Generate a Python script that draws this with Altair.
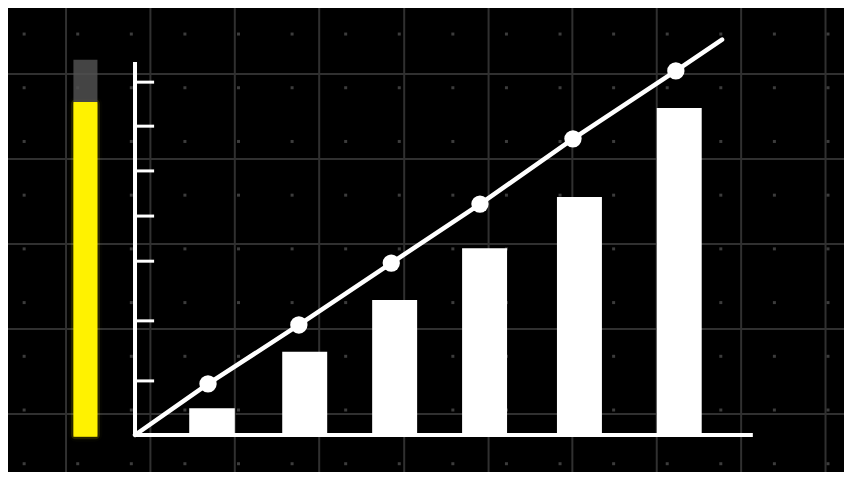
import altair as alt
import pandas as pd

# ---- data (units: x 0..100 along the x axis, y 0..100 along the y axis) ----
bar_x_start = [8.8, 23.9, 38.5, 53.1, 68.5, 84.7]
bar_x_end = [16.2, 31.2, 45.8, 60.4, 75.8, 92.0]
bar_values = [7.2, 22.3, 36.2, 50.1, 63.8, 87.7]

point_x = [11.85, 26.6, 41.6, 56.0, 71.1, 87.8]
point_values = [13.7, 29.5, 46.1, 61.9, 79.4, 97.6]
line_start = (0.0, 0.0)
line_end = (95.3, 106.0)

ytick_values = [14.5, 30.6, 46.6, 58.7, 70.8, 82.8, 94.6]
tick_length = 3.1

grid_x = [-11.2, 2.5, 16.2, 29.9, 43.7, 57.4, 71.0, 84.7, 98.4, 112.1]
grid_y = [5.6, 28.4, 51.2, 74.0, 96.8]

dot_x = [-18.0, -9.3, -0.6, 8.1, 16.8, 25.5, 34.2, 42.9, 51.6, 60.3, 69.0,
         77.7, 86.4, 95.1, 103.8, 112.5]
dot_y = [107.5, 93.1, 78.7, 64.3, 49.9, 35.5, 21.1, 6.7, -7.7]

gauge_x = [-10.0, -6.1]
gauge_level = [-0.5, 89.3]
gauge_cap = [89.3, 100.6]

# ---- scales ----
XD = [-20.62, 115.10]
YD = [-9.92, 114.48]
xs = alt.Scale(domain=XD, nice=False, zero=False)
ys = alt.Scale(domain=YD, nice=False, zero=False)


def X(f, **k):
    return alt.X(f, type="quantitative", scale=xs, axis=None, **k)


def Y(f, **k):
    return alt.Y(f, type="quantitative", scale=ys, axis=None, **k)


# grid
gv = pd.DataFrame({"x": grid_x, "y0": YD[0], "y1": YD[1]})
gh = pd.DataFrame({"y": grid_y, "x0": XD[0], "x1": XD[1]})
grid_v = alt.Chart(gv).mark_rule(color="#303030", strokeWidth=2).encode(
    x=X("x"), y=Y("y0"), y2="y1")
grid_h = alt.Chart(gh).mark_rule(color="#303030", strokeWidth=2).encode(
    y=Y("y"), x=X("x0"), x2="x1")

dots_df = pd.DataFrame([(a, b) for a in dot_x for b in dot_y], columns=["x", "y"])
dots = alt.Chart(dots_df).mark_square(color="#3c3c3c", size=9, opacity=1).encode(
    x=X("x"), y=Y("y"))

# gauge
g_df = pd.DataFrame({"x0": [gauge_x[0]], "x1": [gauge_x[1]],
                     "l0": [gauge_level[0]], "l1": [gauge_level[1]],
                     "c0": [gauge_cap[0]], "c1": [gauge_cap[1]]})
glow2 = alt.Chart(g_df).mark_rect(color="#ffee00", opacity=0.15, stroke="#ffee00",
                                   strokeWidth=10, strokeOpacity=0.12,
                                   cornerRadius=3).encode(
    x=X("x0"), x2="x1", y=Y("l0"), y2="l1")
glow = alt.Chart(g_df).mark_rect(color="#ffee00", opacity=0.35, stroke="#d8c800",
                                  strokeWidth=5, strokeOpacity=0.45,
                                  cornerRadius=2).encode(
    x=X("x0"), x2="x1", y=Y("l0"), y2="l1")
gauge = alt.Chart(g_df).mark_rect(color="#fff200").encode(
    x=X("x0"), x2="x1", y=Y("l0"), y2="l1")
cap = alt.Chart(g_df).mark_rect(color="#505050", opacity=0.85).encode(
    x=X("x0"), x2="x1", y=Y("c0"), y2="c1")

# axes
ax_df = pd.DataFrame({"x0": [0.0], "x1": [100.3], "y0": [0.0], "y1": [100.0]})
xaxis = alt.Chart(ax_df).mark_rule(color="white", strokeWidth=4).encode(
    x=X("x0"), x2="x1", y=Y("y0"))
yaxis = alt.Chart(ax_df).mark_rule(color="white", strokeWidth=4).encode(
    x=X("x0"), y=Y("y0"), y2="y1")
tk_df = pd.DataFrame({"y": ytick_values, "x0": 0.0, "x1": tick_length})
ticks = alt.Chart(tk_df).mark_rule(color="white", strokeWidth=3).encode(
    y=Y("y"), x=X("x0"), x2="x1")

# bars
b_df = pd.DataFrame({"x0": bar_x_start, "x1": bar_x_end, "v": bar_values, "b": 0.0})
bars = alt.Chart(b_df).mark_rect(color="white").encode(
    x=X("x0"), x2="x1", y=Y("b"), y2="v")

# line + points
l_df = pd.DataFrame({
    "x": [line_start[0]] + point_x + [line_end[0]],
    "y": [line_start[1]] + point_values + [line_end[1]],
    "o": list(range(len(point_x) + 2)),
})
line = alt.Chart(l_df).mark_line(color="white", strokeWidth=4.5, strokeCap="round").encode(
    x=X("x"), y=Y("y"), order="o:Q")
p_df = pd.DataFrame({"x": point_x, "y": point_values})
pts = alt.Chart(p_df).mark_circle(color="white", size=300, opacity=1).encode(
    x=X("x"), y=Y("y"))

chart = alt.layer(grid_v, grid_h, dots, glow2, glow, gauge, cap, bars, xaxis, yaxis,
                  ticks, line, pts).properties(
    width=836, height=464, padding=0, autosize="none", background="black"
).configure_view(stroke=None)

chart.save("out.html", embed_options={"renderer": "svg", "actions": False})
